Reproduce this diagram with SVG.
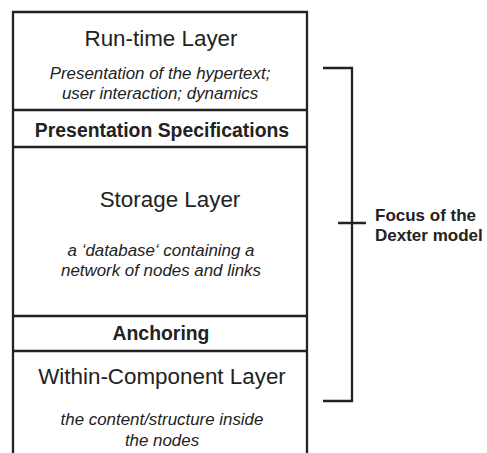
<svg xmlns="http://www.w3.org/2000/svg" width="487" height="453" viewBox="0 0 487 453">
<style>
.ln{stroke:#222;stroke-width:2.3;fill:none}
text{font-family:"Liberation Sans",Arial,sans-serif;fill:#222;text-anchor:middle}
.h{font-size:22.4px}
.i{font-size:16.9px;font-style:italic}
.b{font-size:19.4px;font-weight:bold}
.f{font-size:17px;font-weight:bold;text-anchor:start}
</style>
<rect width="487" height="453" fill="#fff"/>
<g id="connectors">
<path class="ln" d="M13,453 V12 H307 V453"/>
<path class="ln" d="M323,68 H352 V401 H323 M338,223 H366"/>
</g>
<g id="runtime">
<text class="h" x="161" y="46">Run-time Layer</text>
<text class="i" x="160" y="79">Presentation of the hypertext;</text>
<text class="i" x="160" y="99">user interaction; dynamics</text>
</g>
<g id="presspec">
<path class="ln" d="M13,110 H307"/>
<text class="b" x="162" y="137">Presentation Specifications</text>
<path class="ln" d="M13,147 H307"/>
</g>
<g id="storage">
<text class="h" x="170" y="207">Storage Layer</text>
<text class="i" x="161" y="256">a ‘database‘ containing a</text>
<text class="i" x="161" y="276">network of nodes and links</text>
</g>
<g id="anchoring">
<path class="ln" d="M13,316 H307"/>
<text class="b" x="161" y="340">Anchoring</text>
<path class="ln" d="M13,351 H307"/>
</g>
<g id="within">
<text class="h" x="162" y="384">Within-Component Layer</text>
<text class="i" x="162" y="425">the content/structure inside</text>
<text class="i" x="162" y="446">the nodes</text>
</g>
<g id="focus">
<text class="f" x="375" y="221">Focus of the</text>
<text class="f" x="375" y="241">Dexter model</text>
</g>
</svg>
